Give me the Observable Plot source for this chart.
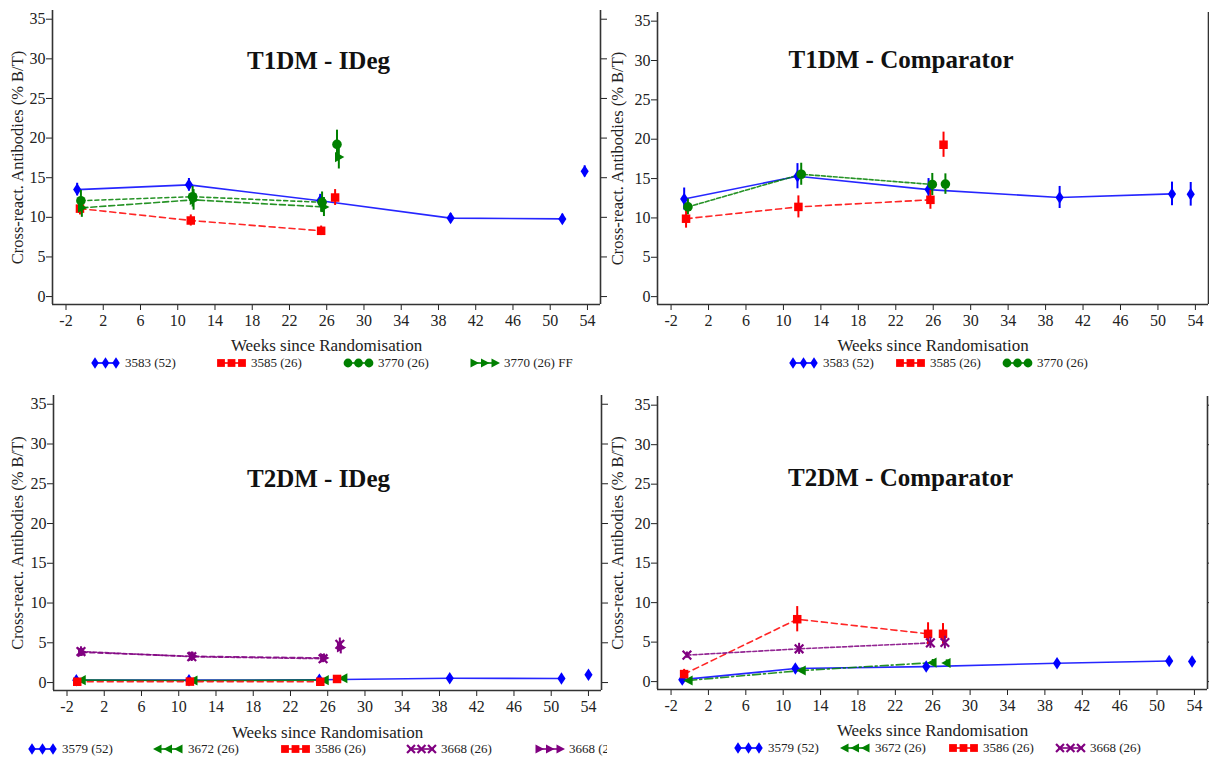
<!DOCTYPE html>
<html><head><meta charset="utf-8">
<script src="https://cdn.jsdelivr.net/npm/d3@7"></script>
<script src="https://cdn.jsdelivr.net/npm/@observablehq/plot@0.6"></script>
<style>
body{margin:0;background:#fff;width:1209px;height:760px;position:relative;overflow:hidden;font-family:"Liberation Serif","Times New Roman",serif;}
.panel{position:absolute;}
.panel svg text{font-family:"Liberation Serif","Times New Roman",serif !important;}
.legend{position:absolute;font-family:"Liberation Serif","Times New Roman",serif;font-size:13px;color:#222;white-space:nowrap;overflow:hidden;height:20px;}
.item{position:absolute;top:0;display:flex;align-items:center;height:20px;}
.item span{margin-left:4px;}
</style></head><body>
<script>
// ---------- shared axes ----------
const xTicks = [-2, 2, 6, 10, 14, 18, 22, 26, 30, 34, 38, 42, 46, 50, 54];
const yTicks = [0, 5, 10, 15, 20, 25, 30, 35];
const xLabel = "Weeks since Randomisation";
const yLabel = "Cross-react. Antibodies (% B/T)";

// ---------- T1DM - IDeg ----------
const t1i_3583_week  = [-0.8, 11.2, 25.3, 39.3, 51.3, 53.7];
const t1i_3583_value = [13.5, 14.1, 12.1, 9.9, 9.8, 15.8];
const t1i_3583_err   = [0.8, 0.8, 0.8, 0.6, 0.6, 0.7];
const t1i_3583_join  = [1, 1, 1, 1, 1, 0];
const t1i_3585_week  = [-0.5, 11.4, 25.4, 26.9];
const t1i_3585_value = [11.1, 9.6, 8.3, 12.5];
const t1i_3585_err   = [0.8, 0.7, 0.6, 1.0];
const t1i_3585_join  = [1, 1, 1, 0];
const t1i_3770_week  = [-0.4, 11.6, 25.5, 27.1];
const t1i_3770_value = [12.1, 12.6, 11.9, 19.2];
const t1i_3770_err   = [1.3, 1.3, 1.3, 1.8];
const t1i_3770_join  = [1, 1, 1, 0];
const t1i_3770ff_week  = [-0.3, 11.7, 25.7, 27.3];
const t1i_3770ff_value = [11.2, 12.2, 11.3, 17.6];
const t1i_3770ff_err   = [1.2, 1.3, 1.2, 1.5];
const t1i_3770ff_join  = [1, 1, 1, 0];

// ---------- T1DM - Comparator ----------
const t1c_3583_week  = [-0.6, 11.5, 25.5, 39.5, 51.5, 53.5];
const t1c_3583_value = [12.4, 15.3, 13.6, 12.6, 13.05, 13.0];
const t1c_3583_err   = [1.4, 1.6, 1.4, 1.4, 1.5, 1.5];
const t1c_3583_join  = [1, 1, 1, 1, 1, 0];
const t1c_3585_week  = [-0.4, 11.6, 25.7, 27.1];
const t1c_3585_value = [9.9, 11.4, 12.3, 19.3];
const t1c_3585_err   = [1.2, 1.4, 1.2, 1.6];
const t1c_3585_join  = [1, 1, 1, 0];
const t1c_3770_week  = [-0.2, 11.9, 25.9, 27.3];
const t1c_3770_value = [11.4, 15.55, 14.25, 14.3];
const t1c_3770_err   = [1.0, 1.4, 1.4, 1.3];
const t1c_3770_join  = [1, 1, 1, 0];

// ---------- T2DM - IDeg ----------
const t2i_3579_week  = [-1.0, 11.1, 25.1, 39.1, 51.1, 54.0];
const t2i_3579_value = [0.3, 0.3, 0.35, 0.55, 0.5, 0.97];
const t2i_3579_err   = [0.15, 0.15, 0.15, 0.2, 0.2, 0.3];
const t2i_3579_join  = [1, 1, 1, 1, 1, 0];
const t2i_3672_week  = [-0.4, 11.6, 25.7, 27.7];
const t2i_3672_value = [0.3, 0.25, 0.3, 0.55];
const t2i_3672_err   = [0.15, 0.15, 0.15, 0.2];
const t2i_3672_join  = [1, 1, 1, 0];
const t2i_3586_week  = [-0.9, 11.2, 25.2, 27.0];
const t2i_3586_value = [0.1, 0.12, 0.1, 0.45];
const t2i_3586_err   = [0.1, 0.1, 0.1, 0.2];
const t2i_3586_join  = [1, 1, 1, 0];
const t2i_3668_week  = [-0.5, 11.4, 25.5, 27.3];
const t2i_3668_value = [3.9, 3.25, 3.0, 4.8];
const t2i_3668_err   = [0.6, 0.6, 0.5, 0.8];
const t2i_3668_join  = [1, 1, 1, 0];
const t2i_3668ff_week  = [-0.4, 11.5, 25.6, 27.4];
const t2i_3668ff_value = [3.8, 3.3, 3.1, 4.4];
const t2i_3668ff_err   = [0.5, 0.5, 0.5, 0.8];
const t2i_3668ff_join  = [1, 1, 1, 0];

// ---------- T2DM - Comparator ----------
const t2c_3579_week  = [-0.8, 11.3, 25.3, 39.3, 51.3, 53.75];
const t2c_3579_value = [0.25, 1.65, 1.9, 2.33, 2.6, 2.55];
const t2c_3579_err   = [0.2, 0.3, 0.3, 0.3, 0.4, 0.4];
const t2c_3579_join  = [1, 1, 1, 1, 1, 0];
const t2c_3672_week  = [-0.1, 12.0, 26.0, 27.5];
const t2c_3672_value = [0.15, 1.4, 2.4, 2.35];
const t2c_3672_err   = [0.2, 0.3, 0.4, 0.4];
const t2c_3672_join  = [1, 1, 1, 0];
const t2c_3586_week  = [-0.6, 11.5, 25.5, 27.1];
const t2c_3586_value = [0.95, 7.9, 6.05, 6.05];
const t2c_3586_err   = [0.6, 1.6, 1.4, 1.3];
const t2c_3586_join  = [1, 1, 1, 0];
const t2c_3668_week  = [-0.3, 11.7, 25.75, 27.3];
const t2c_3668_value = [3.35, 4.15, 4.9, 4.95];
const t2c_3668_err   = [0.4, 0.7, 0.7, 0.8];
const t2c_3668_join  = [1, 1, 1, 0];

// ---------- styles ----------
const FONT = "'Liberation Serif', 'Times New Roman', serif";
const BLUE = "#0000ff", RED = "#ff0000", GREEN = "#008000", PURPLE = "#800080";
const symDiamond = {draw(c, s) {const r = Math.sqrt(s / Math.PI), w = r * 0.85, h = r * 1.3;
  c.moveTo(0, -h); c.lineTo(w, 0); c.lineTo(0, h); c.lineTo(-w, 0); c.closePath();}};
const symTriRight = {draw(c, s) {const r = Math.sqrt(s / Math.PI);
  c.moveTo(r * 1.15, 0); c.lineTo(-r * 0.8, -r * 1.05); c.lineTo(-r * 0.8, r * 1.05); c.closePath();}};
const symTriLeft = {draw(c, s) {const r = Math.sqrt(s / Math.PI);
  c.moveTo(-r * 1.15, 0); c.lineTo(r * 0.8, -r * 1.05); c.lineTo(r * 0.8, r * 1.05); c.closePath();}};
const symTimes = {draw(c, s) {const r = Math.sqrt(s / Math.PI) * 0.9;
  c.moveTo(-r, -r); c.lineTo(r, r); c.moveTo(r, -r); c.lineTo(-r, r);}};

function series(name, week, value, err, join, color, symbol, dash, stroked) {
  const rows = week.map((w, i) => ({week: w, value: value[i], lo: value[i] - err[i], hi: value[i] + err[i], join: join[i]}));
  return {name, rows, color, symbol, dash, stroked};
}

const X_DOMAIN = [-3.45, 55.4];
const Y_DOMAIN = [-1.0, 36.1];
const plainFormat = d => String(d);

function makePanel(cfg) {
  const H = 364;
  const marks = [];
  for (const s of cfg.series) {
    marks.push(Plot.line(s.rows.filter(d => d.join), {x: "week", y: "value", stroke: s.color, strokeWidth: 1.6, strokeDasharray: s.dash, strokeOpacity: 0.85}));
  }
  for (const s of cfg.series) {
    marks.push(Plot.ruleX(s.rows, {x: "week", y1: "lo", y2: "hi", stroke: s.color, strokeWidth: 2}));
    marks.push(Plot.dot(s.rows, {x: "week", y: "value", symbol: () => s.symbol, r: 4.8,
      fill: s.stroked ? "none" : s.color, stroke: s.stroked ? s.color : "none", strokeWidth: s.stroked ? 2.2 : 0}));
  }
  const plot = Plot.plot({
    width: cfg.width, height: H,
    marginLeft: cfg.marginLeft, marginRight: cfg.marginRight, marginTop: cfg.marginTop, marginBottom: H - cfg.frameBottom,
    style: {fontFamily: FONT, fontSize: "16px", color: "#222", background: "transparent", overflow: "visible"},
    x: {domain: X_DOMAIN},
    y: {domain: Y_DOMAIN},
    marks: [
      Plot.axisY({anchor: "left", ticks: yTicks, tickSize: 6, tickPadding: 1, tickFormat: plainFormat, fontSize: 16, fontFamily: FONT}),
      Plot.axisY({anchor: "left", ticks: [], label: yLabel, labelAnchor: "center", labelOffset: cfg.marginLeft - 11, labelArrow: "none", fontSize: 16.5, fontFamily: FONT}),
      Plot.axisY({anchor: "right", ticks: yTicks, tickSize: 6, tickFormat: () => "", label: null}),
      Plot.axisX({anchor: "bottom", ticks: xTicks, tickSize: 6, tickPadding: 4, tickFormat: plainFormat, fontSize: 16, fontFamily: FONT, label: null}),
      Plot.axisX({anchor: "bottom", ticks: [], label: xLabel, labelAnchor: "center", labelOffset: cfg.xLabelOffset, labelArrow: "none", fontSize: 17, fontFamily: FONT}),
      Plot.ruleX(X_DOMAIN, {stroke: "#333", strokeWidth: 1.6}),
      Plot.ruleY([Y_DOMAIN[0]], {stroke: "#333", strokeWidth: 1.6}),
      ...marks,
      Plot.text([cfg.title], {frameAnchor: "top", dx: cfg.titleDx, dy: cfg.titleDy, fontSize: 25, fontWeight: "bold", fill: "#111", fontFamily: FONT})
    ]
  });
  const div = document.createElement("div");
  div.className = "panel";
  div.style.left = cfg.left + "px"; div.style.top = cfg.top + "px"; div.style.width = cfg.width + "px";
  div.appendChild(plot);
  document.body.appendChild(div);

  // legend
  const lg = document.createElement("div");
  lg.className = "legend";
  lg.style.left = "0px"; lg.style.top = (cfg.legendY - 10) + "px"; lg.style.width = cfg.legendClip + "px";
  cfg.series.forEach((s, i) => {
    const it = document.createElement("div");
    it.className = "item";
    it.style.left = cfg.legendX[i] + "px";
    const svg = d3.create("svg").attr("width", 31).attr("height", 16);
    svg.append("line").attr("x1", 3).attr("x2", 28).attr("y1", 8).attr("y2", 8).attr("stroke", s.color).attr("stroke-width", 1.6);
    const path = d3.symbol().type(s.symbol).size(Math.PI * 4.4 * 4.4)();
    [5, 15.5, 26].forEach(x => {
      svg.append("path").attr("d", path).attr("transform", `translate(${x},8)`)
        .attr("fill", s.stroked ? "none" : s.color).attr("stroke", s.stroked ? s.color : "none").attr("stroke-width", 2.2);
    });
    it.appendChild(svg.node());
    const sp = document.createElement("span"); sp.textContent = s.name; it.appendChild(sp);
    lg.appendChild(it);
  });
  document.body.appendChild(lg);
}

makePanel({
  title: "T1DM - IDeg", left: 0, top: 0, width: 605, marginLeft: 52, marginRight: 5, marginTop: 10, frameBottom: 304,
  titleDx: -8, titleDy: 41, xLabelOffset: 46, legendY: 363, legendX: [90, 216, 343, 469], legendClip: 607,
  series: [
    series("3583 (52)", t1i_3583_week, t1i_3583_value, t1i_3583_err, t1i_3583_join, BLUE, symDiamond, null, false),
    series("3585 (26)", t1i_3585_week, t1i_3585_value, t1i_3585_err, t1i_3585_join, RED, d3.symbolSquare, "6,4", false),
    series("3770 (26)", t1i_3770_week, t1i_3770_value, t1i_3770_err, t1i_3770_join, GREEN, d3.symbolCircle, "4,3", false),
    series("3770 (26) FF", t1i_3770ff_week, t1i_3770ff_value, t1i_3770ff_err, t1i_3770ff_join, GREEN, symTriRight, "6,3", false)
  ]
});
makePanel({
  title: "T1DM - Comparator", left: 600, top: 0, width: 609, marginLeft: 57, marginRight: 1, marginTop: 12, frameBottom: 304,
  titleDx: -32, titleDy: 38, xLabelOffset: 46, legendY: 363, legendX: [788, 895, 1002], legendClip: 1209,
  series: [
    series("3583 (52)", t1c_3583_week, t1c_3583_value, t1c_3583_err, t1c_3583_join, BLUE, symDiamond, null, false),
    series("3585 (26)", t1c_3585_week, t1c_3585_value, t1c_3585_err, t1c_3585_join, RED, d3.symbolSquare, "6,4", false),
    series("3770 (26)", t1c_3770_week, t1c_3770_value, t1c_3770_err, t1c_3770_join, GREEN, d3.symbolCircle, "4,2", false)
  ]
});
makePanel({
  title: "T2DM - IDeg", left: 0, top: 380, width: 606, marginLeft: 53, marginRight: 5, marginTop: 15, frameBottom: 310,
  titleDx: -9, titleDy: 74, xLabelOffset: 47, legendY: 749, legendX: [27, 153, 280, 406, 534], legendClip: 607,
  series: [
    series("3579 (52)", t2i_3579_week, t2i_3579_value, t2i_3579_err, t2i_3579_join, BLUE, symDiamond, null, false),
    series("3672 (26)", t2i_3672_week, t2i_3672_value, t2i_3672_err, t2i_3672_join, GREEN, symTriLeft, null, false),
    series("3586 (26)", t2i_3586_week, t2i_3586_value, t2i_3586_err, t2i_3586_join, RED, d3.symbolSquare, "6,4", false),
    series("3668 (26)", t2i_3668_week, t2i_3668_value, t2i_3668_err, t2i_3668_join, PURPLE, symTimes, "4,2", true),
    series("3668 (26) FF", t2i_3668ff_week, t2i_3668ff_value, t2i_3668ff_err, t2i_3668ff_join, PURPLE, symTriRight, "5,3", false)
  ]
});
makePanel({
  title: "T2DM - Comparator", left: 600, top: 380, width: 609, marginLeft: 57, marginRight: 2, marginTop: 16, frameBottom: 309,
  titleDx: -32, titleDy: 72, xLabelOffset: 46, legendY: 748, legendX: [733, 840, 948, 1055], legendClip: 1209,
  series: [
    series("3579 (52)", t2c_3579_week, t2c_3579_value, t2c_3579_err, t2c_3579_join, BLUE, symDiamond, null, false),
    series("3672 (26)", t2c_3672_week, t2c_3672_value, t2c_3672_err, t2c_3672_join, GREEN, symTriLeft, "8,3,2,3", false),
    series("3586 (26)", t2c_3586_week, t2c_3586_value, t2c_3586_err, t2c_3586_join, RED, d3.symbolSquare, "6,4", false),
    series("3668 (26)", t2c_3668_week, t2c_3668_value, t2c_3668_err, t2c_3668_join, PURPLE, symTimes, "4,2", true)
  ]
});
</script></body></html>
